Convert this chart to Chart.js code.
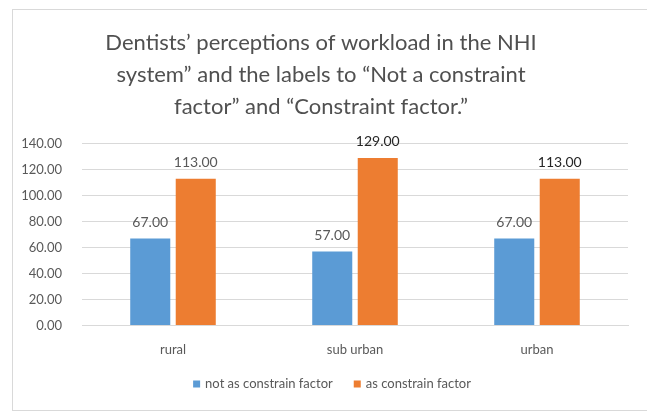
<!DOCTYPE html>
<html>
<head>
<meta charset="utf-8">
<script src="https://cdn.jsdelivr.net/npm/chart.js@4"></script>
<style>
  html, body { margin: 0; padding: 0; background: #fff; }
  #wrap { position: relative; width: 647px; height: 413px; }
  #frame { position: absolute; left: 12px; top: 9px; width: 660px; height: 402px; border: 1px solid #d9d9d9; box-sizing: border-box; pointer-events: none; }
  canvas { position: absolute; left: 0; top: 0; }
</style>
</head>
<body>
<div id="wrap">
  <canvas id="c" width="647" height="413"></canvas>
  <div id="frame"></div>
</div>
<script>
const categories = ["rural", "sub urban", "urban"];
const notConstraint = [67, 57, 67];
const constraint = [113, 129, 113];
const seriesNames = ["not as constrain factor", "as constrain factor"];
const titleLines = [
  "Dentists\u2019 perceptions of workload in the NHI",
  "system\u201d and the labels to \u201cNot a constraint",
  "factor\u201d and \u201cConstraint factor.\u201d"
];
const yTicks = [0, 20, 40, 60, 80, 100, 120, 140];

const FONT = "Lato, 'Open Sans', sans-serif";

const valueLabels = {
  id: 'valueLabels',
  afterDatasetsDraw(chart) {
    const ctx = chart.ctx;
    ctx.save();
    ctx.textAlign = 'center';
    ctx.textBaseline = 'bottom';
    chart.data.datasets.forEach((ds, di) => {
      const meta = chart.getDatasetMeta(di);
      meta.data.forEach((el, i) => {
        const strong = di === 1 && i > 0;
        ctx.font = '14px ' + FONT;
        ctx.fillStyle = strong ? '#262626' : '#595959';
        ctx.fillText(ds.data[i].toFixed(2), el.x, el.y - 9);
      });
    });
    ctx.restore();
  }
};

const bottomLegend = {
  id: 'bottomLegend',
  afterDraw(chart) {
    const ctx = chart.ctx;
    ctx.save();
    ctx.font = '13px ' + FONT;
    ctx.textBaseline = 'middle';
    ctx.textAlign = 'left';
    const box = 7, gapText = 5, gapItem = 21;
    const items = chart.data.datasets.map(ds => ({ text: ds.label, color: ds.backgroundColor, w: box + gapText + ctx.measureText(ds.label).width }));
    const total = items.reduce((s, it) => s + it.w, 0) + gapItem * (items.length - 1);
    const cx = 332, cy = 384;
    let x = cx - total / 2;
    items.forEach(it => {
      ctx.fillStyle = it.color;
      ctx.fillRect(x, cy - box / 2, box, box);
      ctx.fillStyle = '#595959';
      ctx.fillText(it.text, x + box + gapText, cy);
      x += it.w + gapItem;
    });
    ctx.restore();
  }
};

new Chart(document.getElementById('c'), {
  type: 'bar',
  data: {
    labels: categories,
    datasets: [
      { label: seriesNames[0], data: notConstraint, backgroundColor: '#5b9bd5', barPercentage: 0.88, categoryPercentage: 0.5 },
      { label: seriesNames[1], data: constraint, backgroundColor: '#ed7d31', barPercentage: 0.88, categoryPercentage: 0.5 }
    ]
  },
  options: {
    responsive: false,
    animation: false,
    layout: { padding: { left: 14, right: 19, top: 10, bottom: 38 } },
    plugins: {
      title: {
        display: true,
        text: titleLines,
        color: '#505050',
        font: { family: FONT, size: 22, weight: 'normal', lineHeight: 1.45 },
        padding: { top: 17, bottom: 21 }
      },
      legend: { display: false },
      tooltip: { enabled: false }
    },
    scales: {
      x: {
        grid: { display: false, drawTicks: false },
        border: { color: '#d9d9d9' },
        ticks: { color: '#595959', font: { family: FONT, size: 13 }, padding: 17 }
      },
      y: {
        min: 0, max: 140,
        afterFit(s) { s.width = 68; },
        afterBuildTicks(s) { s.ticks = yTicks.map(v => ({ value: v })); },
        grid: { color: '#d9d9d9', drawTicks: false },
        border: { display: false },
        ticks: { color: '#595959', font: { family: FONT, size: 13 }, padding: 20, callback: v => v.toFixed(2) }
      }
    }
  },
  plugins: [valueLabels, bottomLegend]
});
</script>
</body>
</html>
